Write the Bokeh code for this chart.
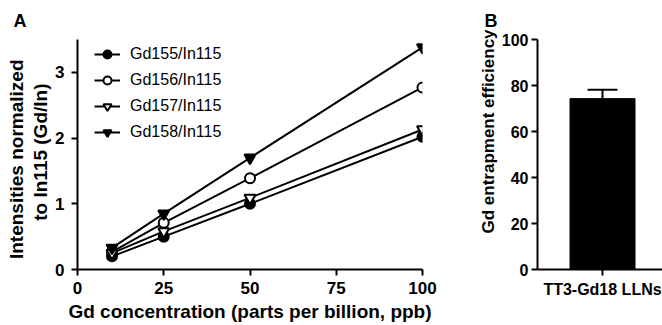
from bokeh.plotting import figure
from bokeh.layouts import row
from bokeh.models import Range1d, FixedTicker, Legend, LegendItem, Title
from bokeh.embed import file_html
from bokeh.resources import INLINE

# ---- data panel A ----
conc = [10, 25, 50, 100]
gd155 = [0.20, 0.50, 1.00, 2.02]
gd156 = [0.27, 0.71, 1.39, 2.77]
gd157 = [0.25, 0.58, 1.09, 2.13]
gd158 = [0.33, 0.85, 1.70, 3.38]
series_names = ["Gd155/In115", "Gd156/In115", "Gd157/In115", "Gd158/In115"]
x_ticks = [0, 25, 50, 75, 100]
y_ticks = [0, 1, 2, 3]
a_xlabel = "Gd concentration (parts per billion, ppb)"
a_ylabel = ["Intensities normalized", "to In115 (Gd/In)"]

# ---- data panel B ----
bar_cats = ["TT3-Gd18 LLNs"]
bar_vals = [74.3]
bar_err = [3.9]
b_ticks = [0, 20, 40, 60, 80, 100]
b_ylabel = "Gd entrapment efficiency"

FONT = "Liberation Sans"
HAS_STANDOFF = "standoff" in Title.properties()


def style_axes(p, tick_size):
    for ax in (p.xaxis, p.yaxis):
        ax.axis_line_width = 2
        ax.axis_line_color = "black"
        ax.major_tick_line_width = 2
        ax.major_tick_line_color = "black"
        ax.major_tick_in = 0
        ax.major_tick_out = 6
        ax.minor_tick_line_color = None
        ax.major_label_text_font = FONT
        ax.major_label_text_font_style = "bold"
        ax.major_label_text_font_size = tick_size
        ax.major_label_text_color = "black"
        ax.axis_label_text_font = FONT
        ax.axis_label_text_font_style = "bold"
        ax.axis_label_text_color = "black"
    p.xaxis.major_label_standoff = 6
    p.xgrid.grid_line_color = None
    p.ygrid.grid_line_color = None
    p.outline_line_color = None


def make_title(txt, size, align, offset, standoff):
    t = Title(text=txt, align=align, offset=offset, text_font=FONT,
              text_font_size=size, text_font_style="bold", text_color="black")
    if HAS_STANDOFF:
        t.standoff = standoff
    return t


# ---------------- Panel A ----------------
pA = figure(width=470, height=325, output_backend="svg", toolbar_location=None,
            x_range=Range1d(0, 100), y_range=Range1d(0, 3.5),
            min_border_left=77, min_border_right=48,
            min_border_top=39, min_border_bottom=56)
style_axes(pA, "17px")
pA.yaxis.major_label_standoff = 7
pA.xaxis.ticker = FixedTicker(ticks=x_ticks)
pA.yaxis.ticker = FixedTicker(ticks=y_ticks)
pA.xaxis.axis_label = a_xlabel
pA.xaxis.axis_label_text_font_size = "19px"
pA.xaxis.axis_label_standoff = 4
pA.title = make_title("A", "18px", "left", -64, 17)
pA.add_layout(make_title(a_ylabel[1], "19px", "right", 44, 3), "left")
pA.add_layout(make_title(a_ylabel[0], "19px", "right", 20, 0), "left")

series = [gd155, gd156, gd157, gd158]
markers = ["circle", "circle", "inverted_triangle", "inverted_triangle"]
fills = ["black", "white", "white", "black"]
sizes = [10, 10, 11, 11]
items = []
for name, ys, mk, fc, sz in zip(series_names, series, markers, fills, sizes):
    ln = pA.line(conc, ys, line_color="black", line_width=2)
    sc = pA.scatter(conc, ys, marker=mk, size=sz, fill_color=fc,
                    line_color="black", line_width=2)
    items.append(LegendItem(label=name, renderers=[ln, sc]))

leg = Legend(items=items, location=(17, 127), padding=0, margin=0,
             glyph_width=26, glyph_height=20, spacing=6, label_standoff=10,
             border_line_color=None, background_fill_alpha=0,
             label_text_font=FONT, label_text_font_size="16px",
             label_text_color="black")
pA.add_layout(leg)

# ---------------- Panel B ----------------
pB = figure(width=192, height=325, output_backend="svg", toolbar_location=None,
            x_range=Range1d(0, 125 / 65), y_range=Range1d(0, 100),
            min_border_left=67, min_border_right=0,
            min_border_top=39, min_border_bottom=56)
style_axes(pB, "16px")
pB.yaxis.major_label_standoff = 3
pB.yaxis.ticker = FixedTicker(ticks=b_ticks)
bar_x = [i + 1 for i in range(len(bar_cats))]
pB.xaxis.ticker = FixedTicker(ticks=bar_x)
pB.xaxis.major_label_overrides = {bx: c for bx, c in zip(bar_x, bar_cats)}
pB.xaxis.major_label_standoff = 5
pB.title = make_title("B", "18px", "left", -53, 17)
pB.add_layout(make_title(b_ylabel, "17px", "left", 36, 2), "left")

tops = [v + e for v, e in zip(bar_vals, bar_err)]
pB.segment(x0=bar_x, y0=bar_vals, x1=bar_x, y1=tops, line_color="black", line_width=2)
pB.segment(x0=[bx - 0.23 for bx in bar_x], y0=tops, x1=[bx + 0.23 for bx in bar_x],
           y1=tops, line_color="black", line_width=2)
pB.vbar(x=bar_x, top=bar_vals, width=1.0, bottom=0, fill_color="black",
        line_color="black", line_width=1)

layout = row(pA, pB)
open("out.html", "w").write(file_html(layout, INLINE))
